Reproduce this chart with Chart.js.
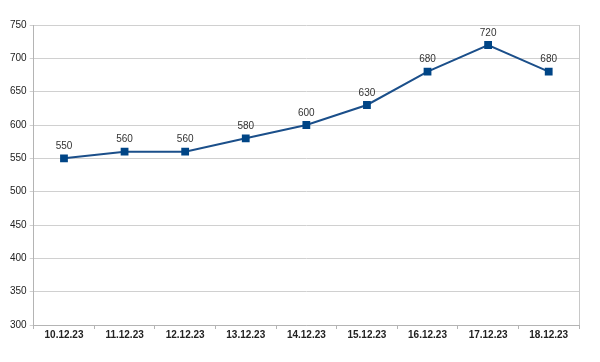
<!DOCTYPE html>
<html>
<head>
<meta charset="utf-8">
<script src="https://cdn.jsdelivr.net/npm/chart.js@4/dist/chart.umd.min.js"></script>
<style>
  html, body { margin: 0; padding: 0; background: #fff; }
  #wrap { width: 600px; height: 362px; }
</style>
</head>
<body>
<div id="wrap"><canvas id="chart1"></canvas></div>
<script>
const dates = ['10.12.23', '11.12.23', '12.12.23', '13.12.23', '14.12.23', '15.12.23', '16.12.23', '17.12.23', '18.12.23'];
const values = [550, 560, 560, 580, 600, 630, 680, 720, 680];
const yTicks = [300, 350, 400, 450, 500, 550, 600, 650, 700, 750];

// draws the value above each point
const pointLabels = {
    id: 'pointLabels',
    afterDatasetsDraw(chart) {
        const ctx = chart.ctx;
        const meta = chart.getDatasetMeta(0);
        ctx.save();
        ctx.font = '10px "Liberation Sans", Arial, sans-serif';
        ctx.fillStyle = '#333';
        ctx.textAlign = 'center';
        ctx.textBaseline = 'bottom';
        meta.data.forEach((pt, i) => {
            ctx.fillText(values[i], pt.x, pt.y - 7);
        });
        ctx.restore();
    }
};

// gray frame on the right side of the plot
const plotFrame = {
    id: 'plotFrame',
    beforeDatasetsDraw(chart) {
        const a = chart.chartArea;
        const ctx = chart.ctx;
        ctx.save();
        ctx.strokeStyle = '#c8c8c8';
        ctx.lineWidth = 1;
        ctx.beginPath();
        ctx.moveTo(Math.round(a.right) + 0.5, a.top);
        ctx.lineTo(Math.round(a.right) + 0.5, a.bottom);
        ctx.stroke();
        ctx.restore();
    }
};

new Chart(document.getElementById('chart1'), {
    type: 'line',
    data: {
        labels: dates,
        datasets: [{
            data: values,
            borderColor: '#1b4f8a',
            backgroundColor: '#004586',
            borderWidth: 2,
            pointStyle: 'rect',
            pointRadius: 5.5,
            pointBorderWidth: 0,
            tension: 0
        }]
    },
    options: {
        responsive: true,
        maintainAspectRatio: false,
        animation: false,
        layout: { padding: { top: 25, right: 21, bottom: 21, left: 7 } },
        plugins: {
            legend: { display: false },
            tooltip: { enabled: false }
        },
        scales: {
            x: {
                offset: true,
                grid: {
                    offset: true,
                    drawOnChartArea: false,
                    drawTicks: true,
                    tickLength: 4,
                    color: '#b4b4b4'
                },
                border: { color: '#b4b4b4' },
                ticks: {
                    color: '#222',
                    font: { family: '"Liberation Sans", Arial, sans-serif', size: 10, weight: 'bold' },
                    padding: 0,
                    maxRotation: 0
                }
            },
            y: {
                min: 300,
                max: 750,
                afterBuildTicks: axis => { axis.ticks = yTicks.map(v => ({ value: v })); },
                grid: { color: '#d0d0d0', tickLength: 4 },
                border: { color: '#b4b4b4' },
                ticks: {
                    color: '#222',
                    font: { family: '"Liberation Sans", Arial, sans-serif', size: 10 },
                    padding: 3
                }
            }
        }
    },
    plugins: [pointLabels, plotFrame]
});
</script>
</body>
</html>
